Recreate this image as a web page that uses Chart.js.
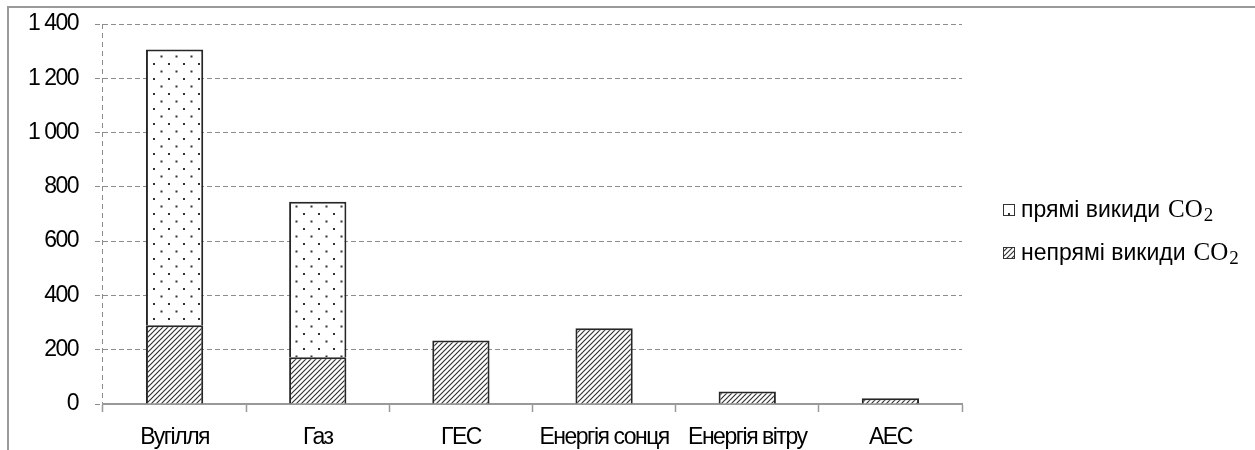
<!DOCTYPE html>
<html>
<head>
<meta charset="utf-8">
<script src="https://cdn.jsdelivr.net/npm/chart.js@4.4.1/dist/chart.umd.min.js"></script>
<style>
  body { margin: 0; background: #fff; }
  #wrap { position: relative; width: 1255px; height: 450px; overflow: hidden; }
  #frame { position: absolute; left: 7px; top: 6px; width: 1400px; height: 600px;
           border-left: 2px solid #9a9a9a; border-top: 2px solid #9a9a9a; }
  #emissionsChart { position: absolute; left: 0; top: 0; }
</style>
</head>
<body>
<div id="wrap">
  <div id="frame"></div>
  <canvas id="emissionsChart" width="1255" height="450"></canvas>
</div>
<script>
// Data
var categories = ['Вугілля', 'Газ', 'ГЕС', 'Енергія сонця', 'Енергія вітру', 'АЕС'];
var indirectValues = [290, 172, 234, 279, 46, 21];
var directValues = [1016, 573, null, null, null, null];
var seriesNames = ['непрямі викиди', 'прямі викиди'];
var formulaMain = 'CO';
var formulaSub = '2';
var yTicks = [0, 200, 400, 600, 800, 1000, 1200, 1400];

var labelFont = "'Liberation Sans Narrow', 'Arial Narrow', 'Liberation Sans', Arial, sans-serif";
var legendFont = "'Liberation Sans', Arial, sans-serif";
var formulaFont = "'Liberation Serif', 'DejaVu Serif', serif";
var squeeze = '-1.5px'; // no narrow face installed, tighten letters instead

// Fill patterns: diagonal hatch and staggered dots
function makeHatch() {
  var c = document.createElement('canvas');
  c.width = 5; c.height = 5;
  var g = c.getContext('2d');
  g.fillStyle = '#fff';
  g.fillRect(0, 0, 5, 5);
  g.strokeStyle = '#333';
  g.lineWidth = 1.2;
  g.beginPath();
  g.moveTo(0, 5); g.lineTo(5, 0);
  g.moveTo(-1, 1); g.lineTo(1, -1);
  g.moveTo(4, 6); g.lineTo(6, 4);
  g.stroke();
  return g.createPattern(c, 'repeat');
}

function makeDots() {
  var c = document.createElement('canvas');
  c.width = 15; c.height = 15;
  var g = c.getContext('2d');
  g.fillStyle = '#fff';
  g.fillRect(0, 0, 15, 15);
  g.fillStyle = '#333';
  g.fillRect(3, 3, 2, 2);
  g.fillRect(10.5, 10.5, 2, 2);
  return g.createPattern(c, 'repeat');
}

function fmtThousands(v) {
  return String(v).replace(/\B(?=(\d{3})+(?!\d))/g, ' ');
}

var tightText = {
  id: 'tightText',
  beforeLayout: function(chart) { chart.ctx.letterSpacing = squeeze; },
  beforeDraw: function(chart) { chart.ctx.letterSpacing = squeeze; }
};

// Legend drawn by hand so the formula can use its own font and subscript
var customLegend = {
  id: 'customLegend',
  afterDraw: function(chart) {
    var ctx = chart.ctx;
    var ds = chart.data.datasets.slice().reverse();
    ctx.save();
    ds.forEach(function(d, i) {
      var y = 210 + i * 43;
      ctx.fillStyle = d.backgroundColor;
      ctx.fillRect(1003, y - 6, 12, 12);
      ctx.strokeStyle = '#333';
      ctx.lineWidth = 1;
      ctx.strokeRect(1003.5, y - 5.5, 11, 11);

      ctx.fillStyle = '#000';
      ctx.textBaseline = 'alphabetic';
      ctx.textAlign = 'left';
      ctx.letterSpacing = '0px';
      ctx.font = '23px ' + legendFont;
      var name = d.label.replace(' ' + formulaMain + '₂', '');
      ctx.fillText(name, 1021, y + 7);
      var x = 1021 + ctx.measureText(name).width + 8;
      ctx.font = '25px ' + formulaFont;
      ctx.fillText(formulaMain, x, y + 7);
      x += ctx.measureText(formulaMain).width + 1;
      ctx.font = '19px ' + formulaFont;
      ctx.fillText(formulaSub, x, y + 11);
    });
    ctx.restore();
  }
};

var hatch = makeHatch();
var dots = makeDots();

new Chart(document.getElementById('emissionsChart'), {
  type: 'bar',
  data: {
    labels: categories,
    datasets: [
      {
        label: seriesNames[0] + ' ' + formulaMain + '₂',
        data: indirectValues,
        backgroundColor: hatch,
        borderColor: '#262626',
        borderWidth: 2
      },
      {
        label: seriesNames[1] + ' ' + formulaMain + '₂',
        data: directValues,
        backgroundColor: dots,
        borderColor: '#262626',
        borderWidth: 2
      }
    ]
  },
  options: {
    responsive: false,
    animation: false,
    barPercentage: 0.4,
    categoryPercentage: 1,
    layout: { padding: { top: 24, right: 293, bottom: 0, left: 0 } },
    plugins: {
      legend: { display: false },
      tooltip: { enabled: false }
    },
    scales: {
      x: {
        stacked: true,
        afterFit: function(s) { s.height = 46; },
        border: { display: true, color: '#999', width: 2, dash: [5, 4] },
        grid: {
          offset: true,
          color: function(c) { return c.index === 0 ? '#8c8c8c' : 'rgba(0,0,0,0)'; },
          tickColor: '#999',
          tickWidth: 1.5,
          tickLength: 8,
          lineWidth: 1
        },
        ticks: {
          color: '#000',
          font: { family: labelFont, size: 23 },
          padding: 12,
          autoSkip: false,
          maxRotation: 0
        }
      },
      y: {
        stacked: true,
        min: 0,
        max: 1400,
        afterFit: function(s) {
          s.width = 103;
          s.paddingTop = 0;     // ticks.padding would otherwise push the plot down
          s.paddingBottom = 0;
        },
        afterBuildTicks: function(s) { s.ticks = yTicks.map(function(v) { return { value: v }; }); },
        border: { display: false, dash: [5, 3] },
        grid: {
          color: '#8c8c8c',
          lineWidth: 1,
          tickLength: 8,
          tickBorderDash: [5, 3]
        },
        ticks: {
          color: '#000',
          font: { family: labelFont, size: 23 },
          padding: 17,
          callback: function(v) { return fmtThousands(v); }
        }
      }
    }
  },
  plugins: [tightText, customLegend]
});
</script>
</body>
</html>
